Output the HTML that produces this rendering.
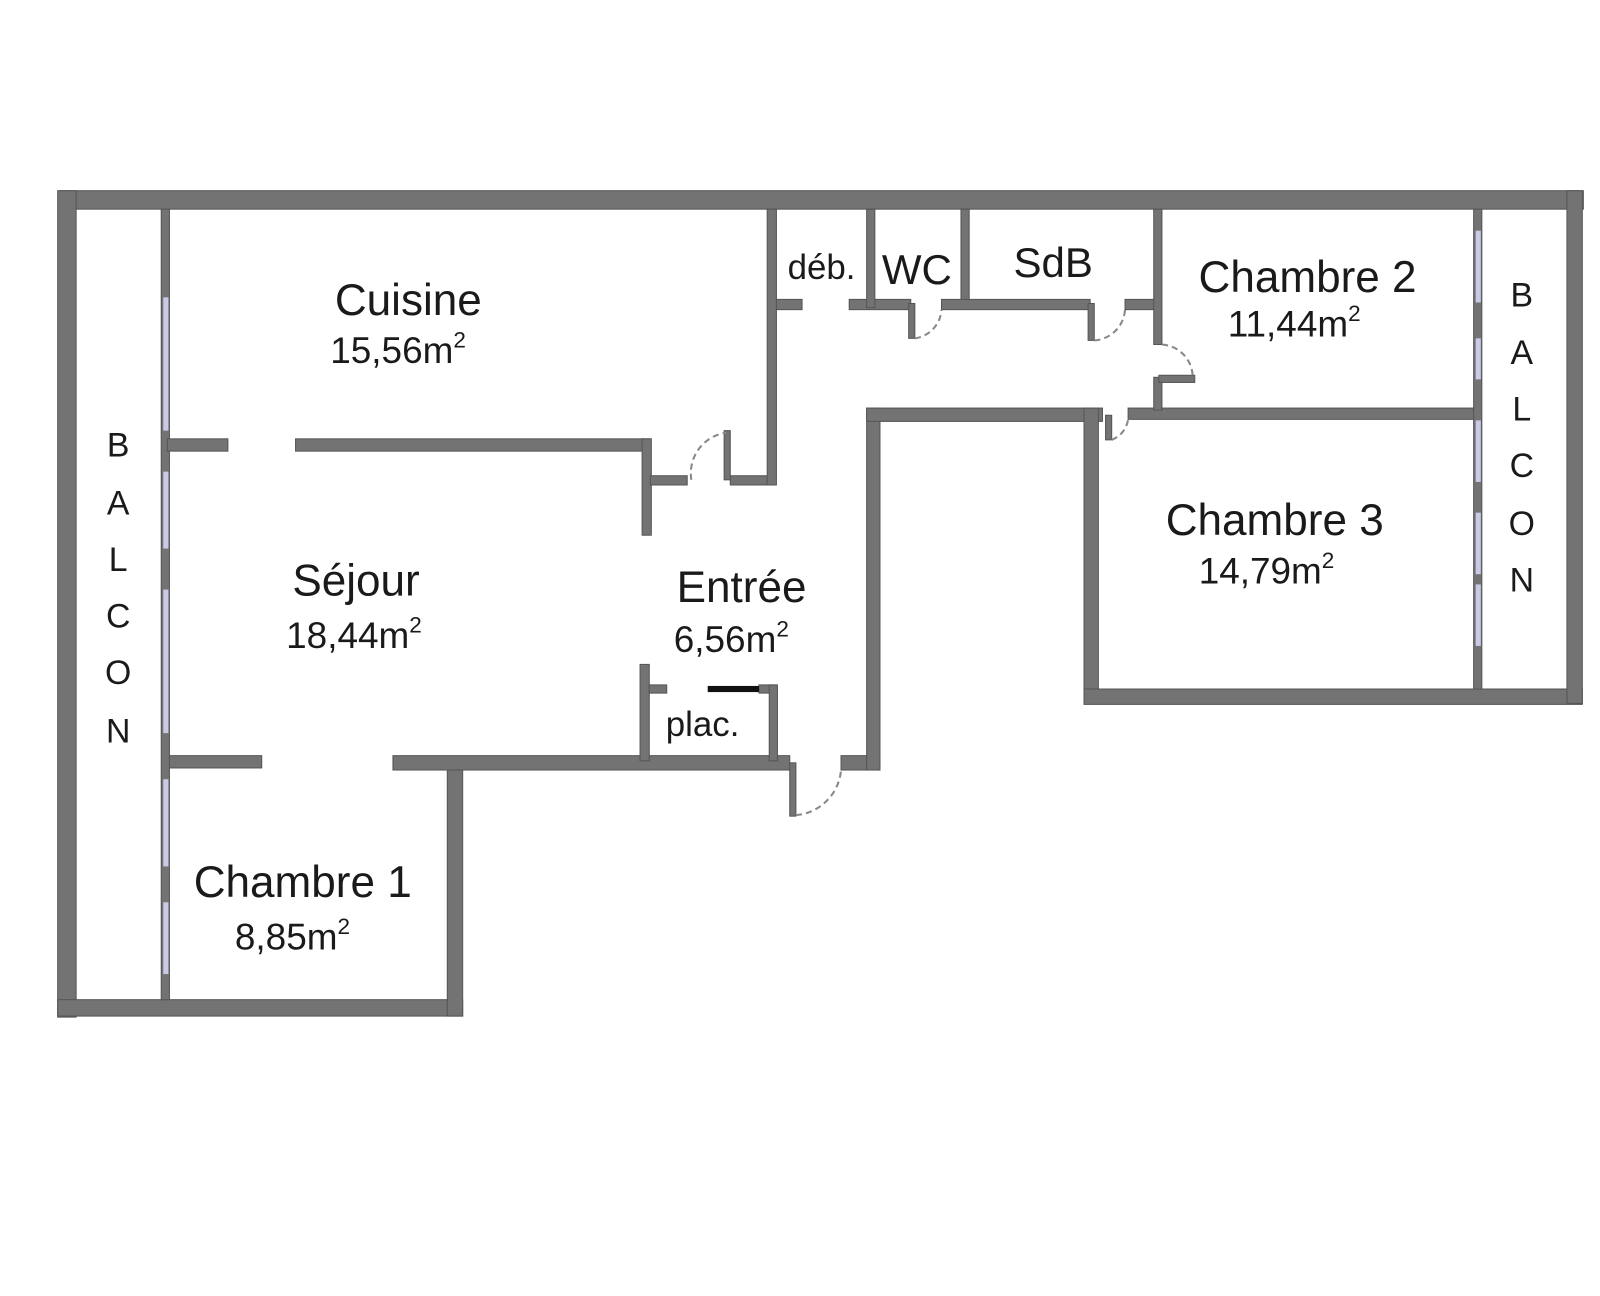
<!DOCTYPE html>
<html><head><meta charset="utf-8"><style>
html,body{margin:0;padding:0;background:#fff;}
svg{display:block;}
text{font-family:"Liberation Sans","DejaVu Sans",sans-serif;fill:#1a1a1a;text-anchor:middle;}
</style></head><body>
<svg width="1600" height="1296" viewBox="0 0 1560 1264" xmlns="http://www.w3.org/2000/svg">
<g fill="#737373" stroke="#555" stroke-width="1">
<rect x="58" y="186" width="1486" height="18"/>
<rect x="56" y="186" width="18" height="806"/>
<rect x="56" y="975" width="395" height="16"/>
<rect x="436" y="744" width="15" height="247"/>
<rect x="383" y="737" width="387" height="14"/>
<rect x="163" y="737" width="92" height="12"/>
<rect x="820" y="737" width="38" height="14"/>
<rect x="845" y="398" width="13" height="353"/>
<rect x="845" y="398" width="230" height="13"/>
<rect x="1100" y="398" width="340" height="11"/>
<rect x="1057" y="398" width="14" height="288"/>
<rect x="1057" y="672" width="486" height="15"/>
<rect x="1528" y="186" width="15" height="500"/>
<rect x="157" y="204" width="8" height="771"/>
<rect x="1437" y="204" width="8" height="468"/>
<rect x="163" y="428" width="59" height="12"/>
<rect x="288" y="428" width="346" height="12"/>
<rect x="626" y="428" width="9" height="94"/>
<rect x="634" y="464" width="36" height="9"/>
<rect x="712" y="464" width="44" height="9"/>
<rect x="748" y="204" width="9" height="269"/>
<rect x="757" y="292" width="25" height="10"/>
<rect x="828" y="292" width="60" height="10"/>
<rect x="845" y="204" width="8" height="96"/>
<rect x="937" y="204" width="8" height="96"/>
<rect x="918" y="292" width="145" height="10"/>
<rect x="1097" y="292" width="33" height="10"/>
<rect x="1125" y="204" width="8" height="132"/>
<rect x="1125" y="368" width="8" height="32"/>
<rect x="1130" y="366" width="35" height="7"/>
<rect x="886" y="296" width="6" height="34"/>
<rect x="1061" y="296" width="6" height="36"/>
<rect x="1078" y="405" width="6" height="24"/>
<rect x="624" y="648" width="9" height="94"/>
<rect x="633" y="668" width="17" height="8"/>
<rect x="740" y="668" width="17" height="8"/>
<rect x="750" y="668" width="8" height="74"/>
<rect x="770" y="744" width="6" height="52"/>
<rect x="706" y="420" width="6" height="48"/>
</g>
<rect x="690" y="669" width="50" height="6" fill="#111"/>
<g fill="#c9cbe6">
<rect x="159" y="290" width="5" height="130"/>
<rect x="159" y="460" width="5" height="75"/>
<rect x="159" y="575" width="5" height="140"/>
<rect x="159" y="760" width="5" height="85"/>
<rect x="159" y="880" width="5" height="70"/>
<rect x="1439" y="225" width="5" height="70"/>
<rect x="1439" y="330" width="5" height="40"/>
<rect x="1439" y="410" width="5" height="60"/>
<rect x="1439" y="500" width="5" height="60"/>
<rect x="1439" y="570" width="5" height="60"/>
</g>
<g fill="none" stroke="#888" stroke-width="2" stroke-dasharray="6,4">
<path d="M674 468 A40 40 0 0 1 708 422"/>
<path d="M892 330 A30 30 0 0 0 918 302"/>
<path d="M1067 332 A32 32 0 0 0 1097 302"/>
<path d="M1133 336 A32 32 0 0 1 1163 368"/>
<path d="M1084 429 A25 25 0 0 0 1100 409"/>
<path d="M776 795 A48 48 0 0 0 820 751"/>
</g>
<g font-size="43">
<text x="398" y="307">Cuisine</text>
<text x="347" y="581">Séjour</text>
<text x="723" y="587">Entrée</text>
<text x="295" y="875">Chambre 1</text>
<text x="1275" y="285">Chambre 2</text>
<text x="1243" y="522">Chambre 3</text>
<text x="894" y="277" font-size="41">WC</text>
<text x="1027" y="270" font-size="41">SdB</text>
</g>
<g font-size="36">
<text x="388" y="354">15,56m<tspan font-size="22" dy="-15">2</tspan></text>
<text x="345" y="632">18,44m<tspan font-size="22" dy="-15">2</tspan></text>
<text x="713" y="636">6,56m<tspan font-size="22" dy="-15">2</tspan></text>
<text x="285" y="926">8,85m<tspan font-size="22" dy="-15">2</tspan></text>
<text x="1262" y="328">11,44m<tspan font-size="22" dy="-15">2</tspan></text>
<text x="1235" y="569">14,79m<tspan font-size="22" dy="-15">2</tspan></text>
<text x="801" y="272" font-size="34">déb.</text>
<text x="685" y="718" font-size="34">plac.</text>
</g>
<g font-size="33">
<text x="115" y="445">B</text><text x="115" y="502">A</text><text x="115" y="557">L</text>
<text x="115" y="612">C</text><text x="115" y="667">O</text><text x="115" y="724">N</text>
<text x="1484" y="299">B</text><text x="1484" y="355">A</text><text x="1484" y="410">L</text>
<text x="1484" y="465">C</text><text x="1484" y="522">O</text><text x="1484" y="577">N</text>
</g>
</svg>
</body></html>
